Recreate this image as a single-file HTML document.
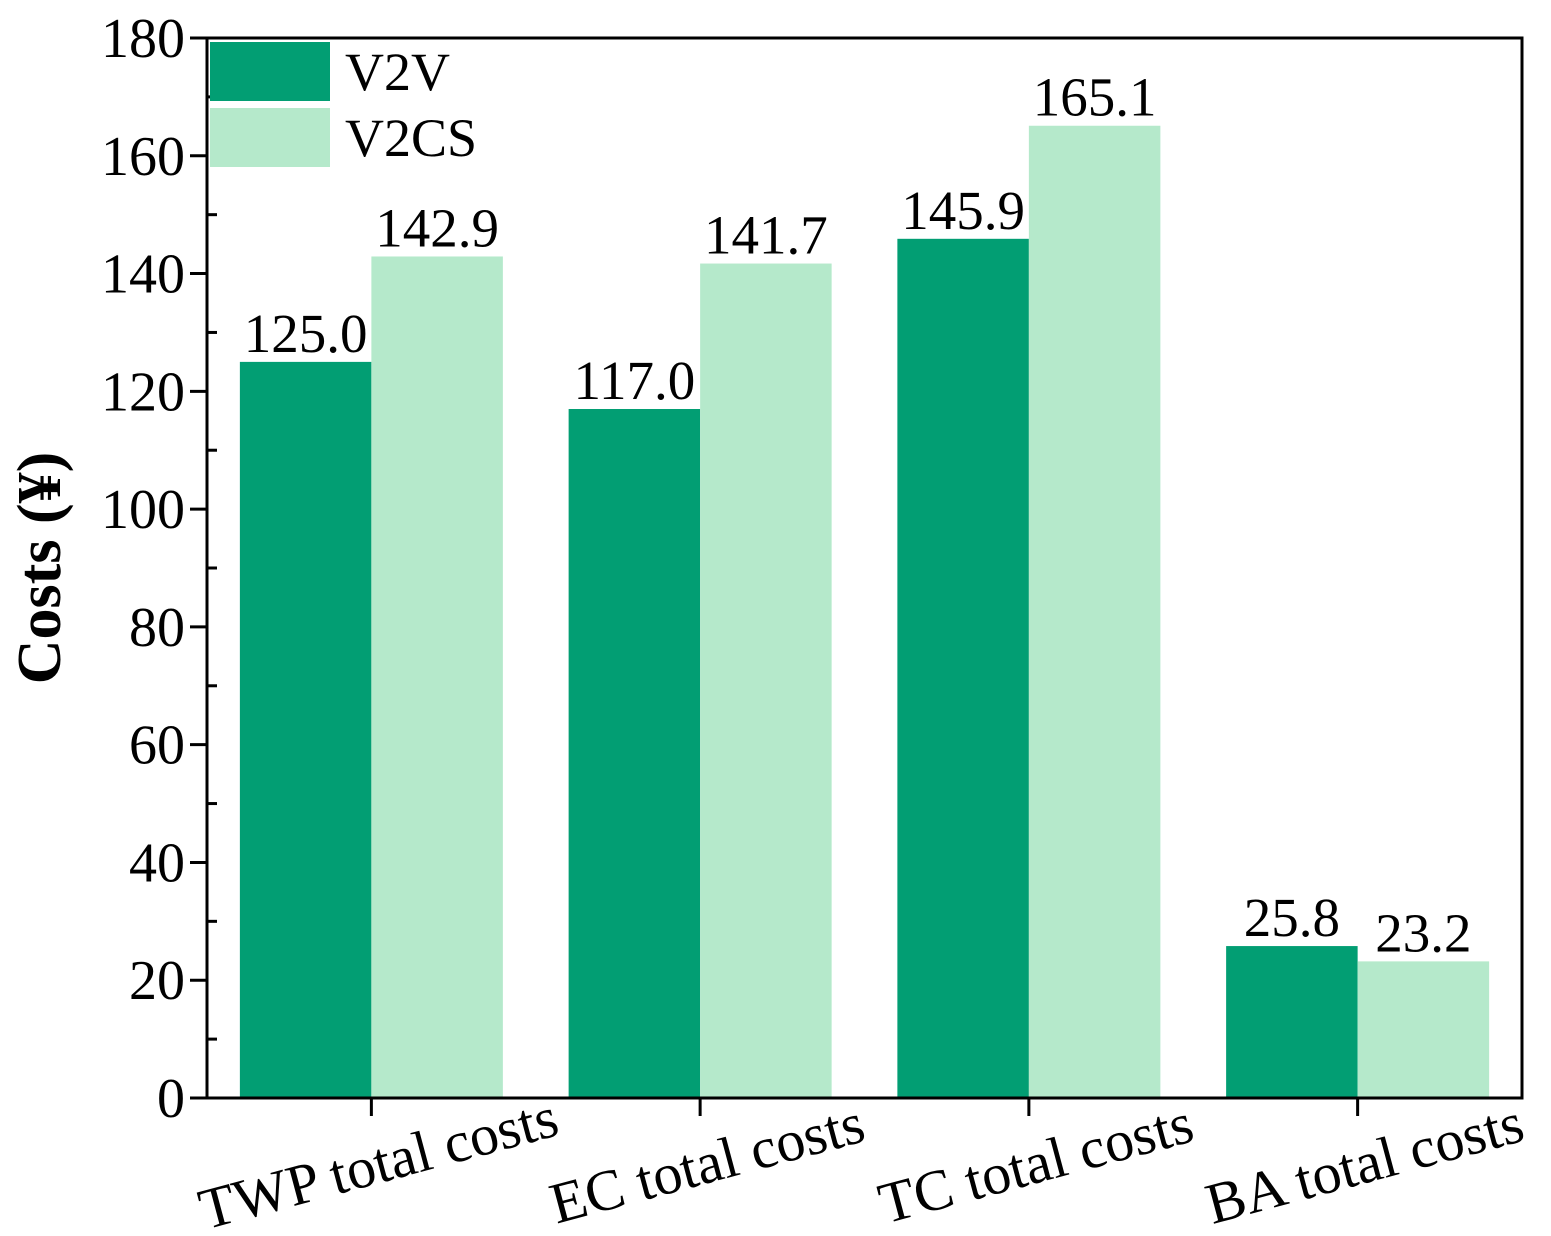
<!DOCTYPE html>
<html><head><meta charset="utf-8"><style>html,body{margin:0;padding:0;background:#fff}svg text{font-family:"Liberation Serif","Times New Roman",serif}</style></head>
<body>
<svg id="chart" width="1551" height="1231" xmlns="http://www.w3.org/2000/svg"></svg>
<script>
const categories = ["TWP total costs","EC total costs","TC total costs","BA total costs"];
const v2vValues = [125.0,117.0,145.9,25.8];
const v2csValues = [142.9,141.7,165.1,23.2];
const yTicks = [0,20,40,60,80,100,120,140,160,180];
const seriesNames = ["V2V","V2CS"];

const svg = document.getElementById('chart');
const NS = 'http://www.w3.org/2000/svg';
const L=207,R=1522,T=38,B=1098,yMax=180;
const band=(R-L)/categories.length;
const bw=band*0.4;
function y(v){return B-(v/yMax)*(B-T);}
function xc(i){return L+band*(i+0.5);}
function mk(tag,attrs){const e=document.createElementNS(NS,tag);for(const k in attrs)e.setAttribute(k,attrs[k]);svg.appendChild(e);return e;}
const colors=["#029e73","#b5e9cb"];
const series=[v2vValues,v2csValues];

categories.forEach((c,i)=>{
  series.forEach((vals,s)=>{
    const x0=xc(i)-bw+s*bw;
    const r=mk('rect',{x:x0,y:y(vals[i]),width:bw,height:B-y(vals[i]),fill:colors[s]});
    
    
    const t=mk('text',{x:x0+bw/2,y:y(vals[i])-10,'font-size':55,'text-anchor':'middle'});
    t.textContent=vals[i].toFixed(1);
    
    
  });
});

const ax=mk('path',{d:`M${L},${T} V${B} H${R} V${T} H${L}`,fill:'none',stroke:'#000','stroke-width':3});



yTicks.forEach(v=>{
  mk('line',{x1:L-17,x2:L,y1:y(v),y2:y(v),stroke:'#000','stroke-width':3});
  const t=mk('text',{x:L-22,y:y(v)+19,'font-size':56,'text-anchor':'end'});
  t.textContent=v;
  
  
});
for(let i=0;i<yTicks.length-1;i++){
  const v=(yTicks[i]+yTicks[i+1])/2;
  mk('line',{x1:L,x2:L+10,y1:y(v),y2:y(v),stroke:'#000','stroke-width':3});
}
categories.forEach((c,i)=>{
  mk('line',{x1:xc(i),x2:xc(i),y1:B,y2:B+18,stroke:'#000','stroke-width':3});
  const cx=xc(i)+12, cy=1182;
  const t=mk('text',{x:cx,y:cy,'font-size':58,'text-anchor':'middle',transform:`rotate(-15 ${cx} ${cy})`});
  t.textContent=c;
  
  
});

const yl=mk('text',{x:0,y:0,'font-size':62,'font-weight':'bold','text-anchor':'middle',transform:'translate(60,568) rotate(-90)'});
yl.textContent='Costs (¥)';



seriesNames.forEach((n,s)=>{
  const r=mk('rect',{x:210,y:42+s*66,width:120,height:59,fill:colors[s]});
  
  
  const t=mk('text',{x:345,y:90+s*66,'font-size':54});
  t.textContent=n;
  
  
});
</script>
</body></html>
